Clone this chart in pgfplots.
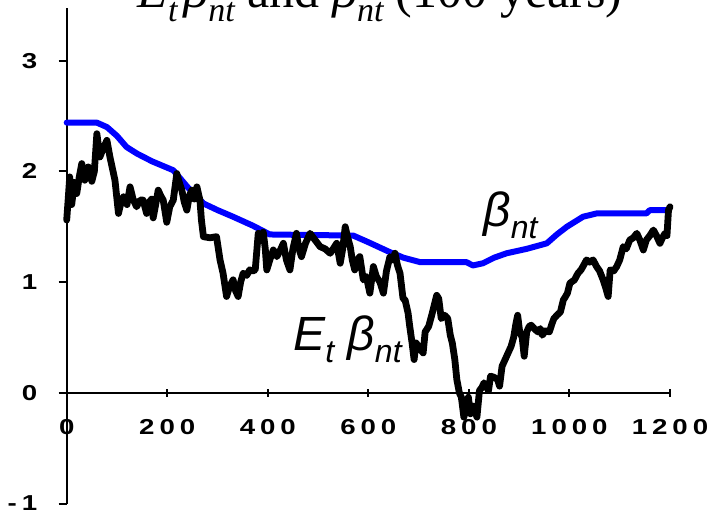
\documentclass[border=0pt]{standalone}
\usepackage{fontspec}
\usepackage{graphicx}
\usepackage{pgfplots}
\pgfplotsset{compat=1.18}
\setmainfont{Liberation Serif}
\newfontfamily\lblfont{Liberation Sans}
\newfontfamily\tickfont[LetterSpace=18]{Liberation Sans}
\newcommand\tl[1]{\scalebox{1.28}[1]{\tickfont\bfseries\fontsize{10.8}{13}\selectfont #1}}

\begin{document}
\begin{tikzpicture}
\begin{axis}[
  scale only axis, width=301.65pt, height=248pt,
  xmin=0, xmax=1200, ymin=-1, ymax=3.48,
  axis lines=middle, axis line style={-, line width=1pt},
  hide obscured x ticks=false, hide obscured y ticks=false,
  xtick={0,200,400,600,800,1000,1200},
  xticklabels={\tl{0},\tl{200},\tl{400},\tl{600},\tl{800},\tl{1000},\tl{1200}},
  ytick={-1,0,1,2,3}, yticklabels={\tl{-1},\tl{0},\tl{1},\tl{2},\tl{3}},
  tick align=center, major tick length=4pt,
  tick style={line width=1pt, black},
  ytick style={xshift=-2pt},
  xticklabel style={anchor=north, inner sep=0pt, yshift=-11pt},
  yticklabel style={anchor=east, inner sep=0pt, xshift=-12.5pt},
  clip=false,
]
\coordinate (ll) at (rel axis cs:0,0);
\coordinate (ur) at (rel axis cs:1,1);

\addplot[blue, line width=3pt, line join=round, line cap=round] coordinates {
(0,2.44) (60,2.44) (80,2.40) (100,2.32) (119,2.22) (140,2.16) (170,2.09) (212,2.01)
(240,1.86) (272,1.71) (300,1.65) (331,1.59) (370,1.51) (404,1.43) (570,1.42)
(600,1.36) (643,1.27) (670,1.22) (703,1.18) (795,1.18) (808,1.15) (828,1.17)
(850,1.22) (875,1.26) (915,1.30) (955,1.35) (975,1.43) (995,1.50) (1027,1.59)
(1054,1.62) (1153,1.62) (1160,1.65) (1193,1.65)
};

\addplot[black, line width=3.4pt, line join=round, line cap=round] coordinates {
(0,1.56) (3,1.75) (6,1.95) (10,1.70) (15,1.90) (20,1.80) (25,1.95) (30,2.07)
(36,1.92) (43,2.04) (50,1.91) (55,2.00) (60,2.34) (66,2.13) (72,2.20) (80,2.28)
(86,2.13) (96,1.92) (103,1.62) (108,1.72) (113,1.77) (120,1.70) (126,1.86)
(132,1.75) (139,1.68) (146,1.74) (152,1.74) (159,1.62) (164,1.72) (169,1.75)
(172,1.58) (177,1.70) (182,1.83) (187,1.78) (192,1.74) (199,1.54) (205,1.68)
(212,1.74) (219,1.98) (224,1.90) (229,1.83) (234,1.72) (239,1.65) (244,1.78)
(249,1.83) (254,1.75) (259,1.86) (262,1.80) (265,1.74) (268,1.56) (272,1.41)
(285,1.40) (298,1.41) (305,1.20) (311,1.08) (318,0.87) (324,0.96) (331,1.02)
(336,0.92) (341,0.87) (346,1.00) (351,1.08) (358,1.06) (364,1.11) (370,1.10)
(375,1.11) (381,1.44) (386,1.40) (391,1.45) (395,1.30) (398,1.11) (404,1.20)
(411,1.29) (418,1.23) (424,1.28) (431,1.35) (437,1.20) (444,1.11) (450,1.30)
(457,1.44) (462,1.30) (467,1.23) (475,1.35) (484,1.44) (494,1.38) (504,1.32)
(514,1.30) (524,1.26) (530,1.30) (537,1.35) (544,1.17) (549,1.30) (554,1.50)
(559,1.40) (564,1.32) (568,1.20) (573,1.11) (578,1.20) (583,1.23) (590,1.02)
(596,1.05) (603,0.90) (610,1.14) (616,1.05) (623,1.00) (630,0.90) (636,1.10)
(643,1.23) (648,1.20) (653,1.26) (658,1.15) (663,1.08) (669,0.85) (673,0.84)
(679,0.72) (682,0.61) (687,0.45) (691,0.30) (695,0.45) (702,0.40) (709,0.36)
(713,0.55) (720,0.60) (726,0.70) (731,0.79) (736,0.88) (740,0.85) (745,0.67)
(752,0.70) (758,0.67) (763,0.52) (767,0.45) (772,0.30) (776,0.12) (781,0.00)
(785,-0.04) (790,-0.22) (795,-0.10) (799,-0.04) (803,-0.19) (808,-0.12)
(812,-0.16) (816,-0.22) (821,0.02) (826,0.05) (830,0.09) (835,0.05) (839,0.02)
(843,0.15) (850,0.14) (857,0.12) (861,0.06) (866,0.24) (870,0.28) (875,0.33)
(880,0.38) (884,0.42) (889,0.50) (893,0.61) (897,0.70) (901,0.55) (906,0.50)
(910,0.33) (915,0.55) (920,0.60) (924,0.61) (930,0.58) (937,0.55) (942,0.58)
(946,0.52) (952,0.56) (960,0.55) (965,0.62) (969,0.67) (975,0.70) (982,0.73)
(988,0.84) (991,0.86) (996,0.90) (1001,0.99) (1010,1.02) (1017,1.08) (1023,1.11)
(1028,1.15) (1034,1.20) (1040,1.18) (1047,1.20) (1054,1.14) (1060,1.10)
(1067,1.02) (1072,0.95) (1077,0.87) (1081,1.11) (1088,1.10) (1094,1.14)
(1100,1.20) (1107,1.32) (1113,1.30) (1120,1.38) (1127,1.40) (1134,1.44)
(1140,1.38) (1147,1.29) (1153,1.38) (1160,1.42) (1167,1.47) (1173,1.42)
(1180,1.35) (1185,1.40) (1190,1.44) (1194,1.42) (1197,1.65) (1200,1.68)
};

\node[anchor=base west, inner sep=0pt] at (axis cs:828,1.506)
  {\fontsize{24}{28}\lblfont\itshape β\raisebox{-6pt}{\fontsize{16}{18}\selectfont nt}};
\node[anchor=base west, inner sep=0pt] at (axis cs:450,0.386)
  {\fontsize{24}{28}\lblfont\itshape E\raisebox{-6pt}{\fontsize{16}{18}\selectfont t} β\raisebox{-6pt}{\fontsize{16}{18}\selectfont nt}};
\node[anchor=base, inner sep=0pt] at (axis cs:623,3.48)
  {\fontsize{25}{30}\selectfont\itshape E\raisebox{-7pt}{\fontsize{17}{20}\selectfont t}\kern3pt β\raisebox{-7pt}{\fontsize{17}{20}\selectfont nt}\upshape{} and \itshape β\raisebox{-7pt}{\fontsize{17}{20}\selectfont nt}\upshape{} (100 years)};
\end{axis}
\pgfresetboundingbox
\path ([xshift=-33.35pt,yshift=-3.8pt]ll) rectangle ([xshift=19.5pt,yshift=3.75pt]ur);
\end{tikzpicture}
\end{document}
